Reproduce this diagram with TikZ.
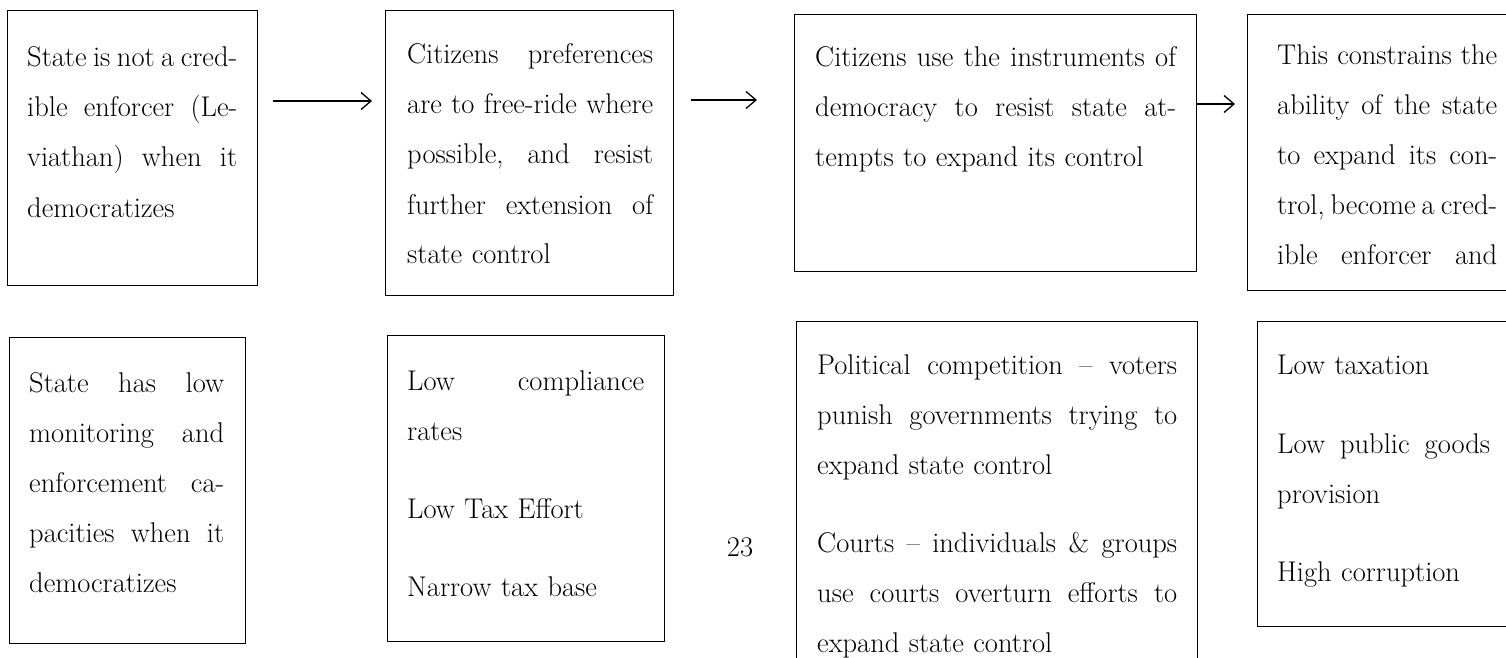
\documentclass[tikz,border=0pt]{standalone}
\usepackage{fontspec}
\usetikzlibrary{arrows.meta,calc}
\newcommand\jline[1]{\noindent\hbox to \hsize{\frenchspacing\spaceskip=0.3em plus 1fil minus 0.12em\relax #1}}
\tikzset{
  box/.style={draw=black, line width=1.3pt, inner sep=0pt, anchor=north west},
  txt/.style={inner sep=0pt, anchor=base west, align=left,
              font=\fontsize{28.5}{50}\selectfont},
  arr/.style={line width=1.3pt, -{Straight Barb[length=10pt,width=17pt,line width=1.3pt]}},
  link/.style={line width=1.3pt, dash pattern=on 7pt off 4pt on 2pt off 4pt}
}
\begin{document}
\begin{tikzpicture}[x=1pt,y=-1pt]
\useasboundingbox (0,0) rectangle (1506,658);
\clip (0,0) rectangle (1506,658);
% boxes
\node[box, minimum width=250pt, minimum height=275pt] (b1) at (7,10) {};
\node[box, minimum width=236pt, minimum height=306pt] (b1b) at (9,337) {};
\node[box, minimum width=288pt, minimum height=285pt] (b2) at (385,10) {};
\node[box, minimum width=277pt, minimum height=306pt] (b2b) at (387,335) {};
\node[box, minimum width=402pt, minimum height=257pt] (b3) at (794,14) {};
\node[box, minimum width=401pt, minimum height=400pt] (b3b) at (796,321) {};
\node[box, minimum width=300pt, minimum height=276pt] (b4) at (1247,14) {};
\node[box, minimum width=300pt, minimum height=305pt] (b4b) at (1257,321) {};
% texts
\node[txt, text width=210pt] (t1) at (27,67) {%
\jline{State is not a cred-}\\
\jline{ible enforcer (Le-}\\
\jline{viathan) when it}\\
democratizes};
\node[txt, text width=195pt] (t1b) at (29,392) {%
\jline{State has low}\\
\jline{monitoring and}\\
\jline{enforcement ca-}\\
\jline{pacities when it}\\
democratizes};
\node[txt, text width=246pt] (t2) at (407,64) {%
\jline{Citizens preferences}\\
\jline{are to free-ride where}\\
\jline{possible, and resist}\\
\jline{further extension of}\\
state control};
\node[txt, text width=237pt] (t2b) at (407,390) {%
\jline{Low compliance}\\
rates\\[28pt]
Low Tax Effort\\[28pt]
Narrow tax base};
\node[txt, text width=361pt] (t3) at (815,67) {%
\jline{Citizens use the instruments of}\\
\jline{democracy to resist state at-}\\
tempts to expand its control};
\node[txt, text width=360pt] (t3b) at (817,374) {%
\jline{Political competition -- voters}\\
\jline{punish governments trying to}\\
expand state control\\[28pt]
\jline{Courts -- individuals \& groups}\\
\jline{use courts overturn efforts to}\\
expand state control};
\node[txt, text width=220pt] (t4) at (1277,65) {%
\jline{This constrains the}\\
\jline{ability of the state}\\
\jline{to expand its con-}\\
\jline{trol, become a cred-}\\
\jline{ible enforcer and}};
\node[txt, text width=213pt] (t4b) at (1277,374) {%
Low taxation\\[29pt]
\jline{Low public goods}\\
provision\\[28pt]
High corruption};
\node[txt, anchor=base] (pg) at (740,556) {23};
% arrows
\draw[arr] ($(b1.north east)+(15,91)$) -- ($(b2.north west)+(-13,91)$);
\draw[arr] ($(b2.north east)+(17,90)$) -- ($(b3.north west)+(-37,86)$);
\draw[arr] ($(b3.north east)+(0,90)$) -- ($(b4.north west)+(-12,90)$);
% dashed links
\draw[link] ($(b1.south west)+(111,0)$) -- ($(b1.south west)+(111,0)$ |- b1b.north);
\draw[link] ($(b2.south west)+(137,0)$) -- ($(b2.south west)+(137,0)$ |- b2b.north);
\draw[link] ($(b3.south west)+(193,0)$) -- ($(b3.south west)+(193,0)$ |- b3b.north);
\draw[link] ($(b4.south west)+(143,0)$) -- ($(b4.south west)+(143,0)$ |- b4b.north);
\end{tikzpicture}
\end{document}
